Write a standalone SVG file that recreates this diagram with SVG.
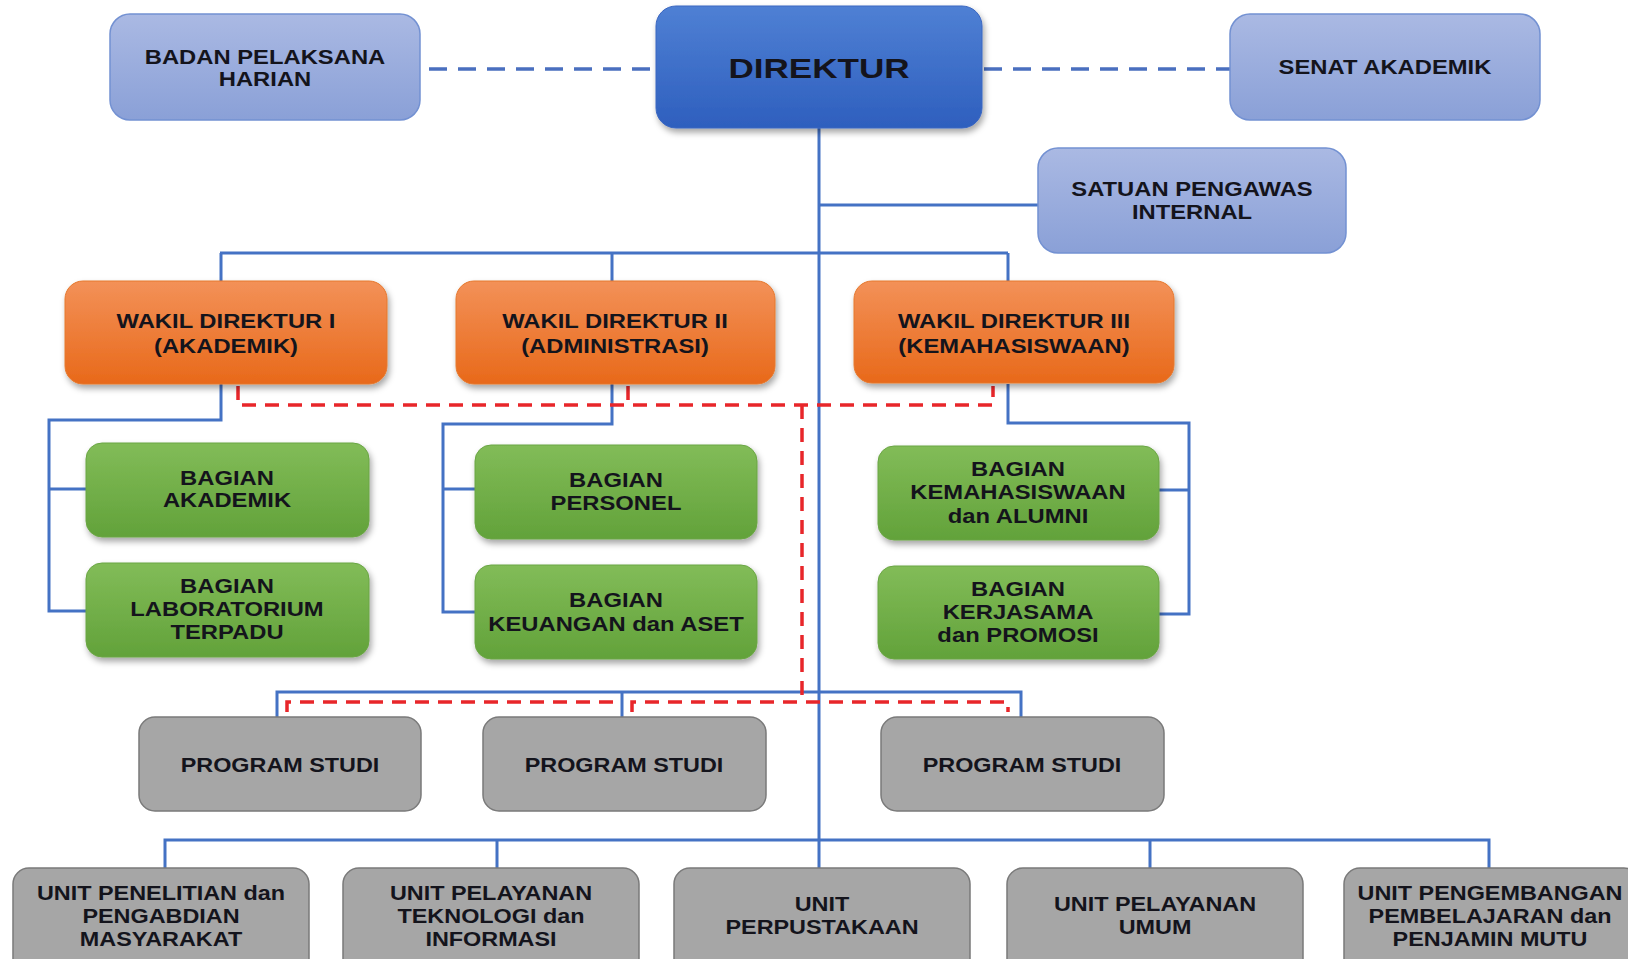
<svg xmlns="http://www.w3.org/2000/svg" width="1628" height="959" viewBox="0 0 1628 959">
<style>
.t{font-family:"Liberation Sans",Arial,sans-serif;font-weight:bold;font-size:19.5px;fill:#14141c;text-anchor:middle}
.big{font-size:27px}
.lb{fill:url(#gLight);stroke:#7391d2;stroke-width:1.5}
.dir{fill:url(#gDir);stroke:#3a66c0;stroke-width:1}
.or{fill:url(#gOr);stroke:#e5782e;stroke-width:1}
.gr{fill:url(#gGr);stroke:#6aa544;stroke-width:1}
.gy{fill:#a6a6a6;stroke:#7a7a7a;stroke-width:1.5}
.bl{fill:none;stroke:#4472c4;stroke-width:3}
.bd{fill:none;stroke:#4a6fbf;stroke-width:3.5;stroke-dasharray:18 11}
.rd{fill:none;stroke:#e8262a;stroke-width:3.5;stroke-dasharray:14 9}
</style>
<defs>
<linearGradient id="gLight" x1="0" y1="0" x2="0" y2="1"><stop offset="0" stop-color="#aab9e3"/><stop offset="1" stop-color="#8aa0d7"/></linearGradient>
<linearGradient id="gDir" x1="0" y1="0" x2="0" y2="1"><stop offset="0" stop-color="#4f80d4"/><stop offset="1" stop-color="#2e5fbe"/></linearGradient>
<linearGradient id="gOr" x1="0" y1="0" x2="0" y2="1"><stop offset="0" stop-color="#f39158"/><stop offset="1" stop-color="#e8691a"/></linearGradient>
<linearGradient id="gGr" x1="0" y1="0" x2="0" y2="1"><stop offset="0" stop-color="#82bc58"/><stop offset="1" stop-color="#62a23a"/></linearGradient>
<filter id="sh" x="-10%" y="-10%" width="130%" height="140%"><feDropShadow dx="2" dy="4" stdDeviation="3" flood-color="#000" flood-opacity="0.35"/></filter>
</defs>
<rect width="1628" height="959" fill="#ffffff"/>

<g id="connectors">
<path class="bd" d="M429 69H652M984 69H1230"/>
<path class="bl" d="M819 128V868M819 205H1038M220 253H1008M221 253V281M612 253V281M1008 253V281"/>
<path class="bl" d="M221 384V420H49V611H86M49 489H86"/>
<path class="bl" d="M612 384V424H443V612H475M443 489H475"/>
<path class="bl" d="M1008 384V423H1189V614H1159M1189 490H1159"/>
<path class="bl" d="M277 717V692H1021V717M622 692V717"/>
<path class="bl" d="M165 868V840H1489V868M497 840V868M1150 840V868"/>
<path class="rd" d="M238 386V405H993V386M628 386V405M802 405V702"/>
<path class="rd" d="M287 712V702H620M632 712V702H1008V712"/>
</g>

<g id="badan"><rect class="lb" x="110" y="14" width="310" height="106" rx="20"/>
<text class="t" transform="matrix(1.22 0 0 1 265 0)"><tspan x="0" y="64">BADAN PELAKSANA</tspan><tspan x="0" y="86">HARIAN</tspan></text></g>
<g id="direktur"><rect class="dir" filter="url(#sh)" x="656" y="6" width="326" height="122" rx="20"/>
<text class="t big" transform="matrix(1.3 0 0 1 819 0)"><tspan x="0" y="78">DIREKTUR</tspan></text></g>
<g id="senat"><rect class="lb" x="1230" y="14" width="310" height="106" rx="20"/>
<text class="t" transform="matrix(1.22 0 0 1 1385 0)"><tspan x="0" y="74">SENAT AKADEMIK</tspan></text></g>
<g id="satuan"><rect class="lb" x="1038" y="148" width="308" height="105" rx="20"/>
<text class="t" transform="matrix(1.22 0 0 1 1192 0)"><tspan x="0" y="196">SATUAN PENGAWAS</tspan><tspan x="0" y="219">INTERNAL</tspan></text></g>

<g id="wakil1"><rect class="or" filter="url(#sh)" x="65" y="281" width="322" height="103" rx="18"/>
<text class="t" transform="matrix(1.22 0 0 1 226 0)"><tspan x="0" y="328">WAKIL DIREKTUR I</tspan><tspan x="0" y="353">(AKADEMIK)</tspan></text></g>
<g id="wakil2"><rect class="or" filter="url(#sh)" x="456" y="281" width="319" height="103" rx="18"/>
<text class="t" transform="matrix(1.22 0 0 1 615 0)"><tspan x="0" y="328">WAKIL DIREKTUR II</tspan><tspan x="0" y="353">(ADMINISTRASI)</tspan></text></g>
<g id="wakil3"><rect class="or" filter="url(#sh)" x="854" y="281" width="320" height="102" rx="18"/>
<text class="t" transform="matrix(1.22 0 0 1 1014 0)"><tspan x="0" y="328">WAKIL DIREKTUR III</tspan><tspan x="0" y="353">(KEMAHASISWAAN)</tspan></text></g>

<g id="bag-akademik"><rect class="gr" filter="url(#sh)" x="86" y="443" width="283" height="94" rx="16"/>
<text class="t" transform="matrix(1.22 0 0 1 227 0)"><tspan x="0" y="485">BAGIAN</tspan><tspan x="0" y="507">AKADEMIK</tspan></text></g>
<g id="bag-lab"><rect class="gr" filter="url(#sh)" x="86" y="563" width="283" height="94" rx="16"/>
<text class="t" transform="matrix(1.22 0 0 1 227 0)"><tspan x="0" y="593">BAGIAN</tspan><tspan x="0" y="616">LABORATORIUM</tspan><tspan x="0" y="639">TERPADU</tspan></text></g>
<g id="bag-personel"><rect class="gr" filter="url(#sh)" x="475" y="445" width="282" height="94" rx="16"/>
<text class="t" transform="matrix(1.22 0 0 1 616 0)"><tspan x="0" y="487">BAGIAN</tspan><tspan x="0" y="510">PERSONEL</tspan></text></g>
<g id="bag-keuangan"><rect class="gr" filter="url(#sh)" x="475" y="565" width="282" height="94" rx="16"/>
<text class="t" transform="matrix(1.22 0 0 1 616 0)"><tspan x="0" y="607">BAGIAN</tspan><tspan x="0" y="631">KEUANGAN dan ASET</tspan></text></g>
<g id="bag-kemahasiswaan"><rect class="gr" filter="url(#sh)" x="878" y="446" width="281" height="94" rx="16"/>
<text class="t" transform="matrix(1.22 0 0 1 1018 0)"><tspan x="0" y="476">BAGIAN</tspan><tspan x="0" y="499">KEMAHASISWAAN</tspan><tspan x="0" y="523">dan ALUMNI</tspan></text></g>
<g id="bag-kerjasama"><rect class="gr" filter="url(#sh)" x="878" y="566" width="281" height="93" rx="16"/>
<text class="t" transform="matrix(1.22 0 0 1 1018 0)"><tspan x="0" y="596">BAGIAN</tspan><tspan x="0" y="619">KERJASAMA</tspan><tspan x="0" y="642">dan PROMOSI</tspan></text></g>

<g id="prodi1"><rect class="gy" x="139" y="717" width="282" height="94" rx="16"/>
<text class="t" transform="matrix(1.2 0 0 1 280 0)"><tspan x="0" y="772">PROGRAM STUDI</tspan></text></g>
<g id="prodi2"><rect class="gy" x="483" y="717" width="283" height="94" rx="16"/>
<text class="t" transform="matrix(1.2 0 0 1 624 0)"><tspan x="0" y="772">PROGRAM STUDI</tspan></text></g>
<g id="prodi3"><rect class="gy" x="881" y="717" width="283" height="94" rx="16"/>
<text class="t" transform="matrix(1.2 0 0 1 1022 0)"><tspan x="0" y="772">PROGRAM STUDI</tspan></text></g>

<g id="unit1"><rect class="gy" x="13" y="868" width="296" height="110" rx="16"/>
<text class="t" transform="matrix(1.2 0 0 1 161 0)"><tspan x="0" y="900">UNIT PENELITIAN dan</tspan><tspan x="0" y="923">PENGABDIAN</tspan><tspan x="0" y="946">MASYARAKAT</tspan></text></g>
<g id="unit2"><rect class="gy" x="343" y="868" width="296" height="110" rx="16"/>
<text class="t" transform="matrix(1.2 0 0 1 491 0)"><tspan x="0" y="900">UNIT PELAYANAN</tspan><tspan x="0" y="923">TEKNOLOGI dan</tspan><tspan x="0" y="946">INFORMASI</tspan></text></g>
<g id="unit3"><rect class="gy" x="674" y="868" width="296" height="110" rx="16"/>
<text class="t" transform="matrix(1.2 0 0 1 822 0)"><tspan x="0" y="911">UNIT</tspan><tspan x="0" y="934">PERPUSTAKAAN</tspan></text></g>
<g id="unit4"><rect class="gy" x="1007" y="868" width="296" height="110" rx="16"/>
<text class="t" transform="matrix(1.2 0 0 1 1155 0)"><tspan x="0" y="911">UNIT PELAYANAN</tspan><tspan x="0" y="934">UMUM</tspan></text></g>
<g id="unit5"><rect class="gy" x="1344" y="868" width="296" height="110" rx="16"/>
<text class="t" transform="matrix(1.2 0 0 1 1490 0)"><tspan x="0" y="900">UNIT PENGEMBANGAN</tspan><tspan x="0" y="923">PEMBELAJARAN dan</tspan><tspan x="0" y="946">PENJAMIN MUTU</tspan></text></g>
</svg>
